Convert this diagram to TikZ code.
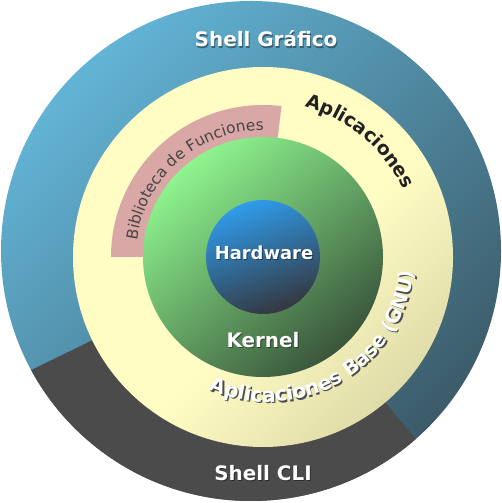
\documentclass[tikz,border=0pt]{standalone}
\usepackage{fontspec}
\setmainfont{DejaVu Sans}
\usetikzlibrary{positioning,decorations.text}

\definecolor{shellblue}{HTML}{62B4D6}
\definecolor{shellbluedark}{HTML}{3C5B69}
\definecolor{cligray}{HTML}{4B4B4B}
\definecolor{appyellow}{HTML}{FFFCC4}
\definecolor{appyellowdark}{HTML}{BDB98B}
\definecolor{libpink}{HTML}{D9A8A6}
\definecolor{kernelgreen}{HTML}{8EF58E}
\definecolor{kernelgreendark}{HTML}{3A553B}
\definecolor{hwblue}{HTML}{2F9CEB}
\definecolor{hwbluedark}{HTML}{34373F}
\definecolor{textdark}{HTML}{222222}
\definecolor{libtext}{HTML}{454545}

\pgfdeclareverticalshading{appshade}{100bp}{color(0bp)=(appyellowdark); color(22bp)=(appyellowdark!55!appyellow); color(45bp)=(appyellow); color(100bp)=(appyellow)}

\tikzset{
  layerlabel/.style={text=white, font=\fontsize{20}{22}\selectfont\bfseries, inner sep=0pt},
  layershadow/.style={text=black, opacity=.4, font=\fontsize{20}{22}\selectfont\bfseries, inner sep=0pt},
  corelabel/.style={layerlabel, font=\fontsize{18}{20}\selectfont\bfseries},
  coreshadow/.style={layershadow, font=\fontsize{18}{20}\selectfont\bfseries},
}

\begin{document}
\begin{tikzpicture}[x=1bp,y=1bp]
      \useasboundingbox (0,0) rectangle (502,503);
      \coordinate (Center)      at (263,246);
      \coordinate (OuterCenter) at (251,252);
      \coordinate (BaseCenter)  at (268,248);
      \coordinate (BaseShadow)  at (269.3,246.6);

      % shell layers
      \shade[top color=shellblue, bottom color=shellbluedark, shading angle=45] (OuterCenter) circle (250);
      \begin{scope}
            \clip (OuterCenter) circle (250); % keeps the CLI part inside
            \fill[cligray] (Center) -- ++(206:400) arc (206:310:400) -- cycle;
      \end{scope}

      % applications, library, kernel, hardware
      \shade[shading=appshade, shading angle=45] (Center) circle (190);
      \fill[libpink] ([shift={(83:152)}]Center) arc (83:180:152)
            -- ([shift={(180:119)}]Center) arc (180:83:119) -- cycle;
      \shade[top color=kernelgreen, bottom color=kernelgreendark, shading angle=40] (Center) circle (120);
      \shade[top color=hwblue, bottom color=hwbluedark, shading angle=20] (Center) circle (57);

      % straight labels
      \node[layershadow] (shellgfxshadow) at (267,462.8) {Shell Gráfico};
      \node[layerlabel]  (shellgfx)       at (266,464)     {Shell Gráfico};
      \node[layershadow] (shellclishadow) at (264,28.8)  {Shell CLI};
      \node[layerlabel]  (shellcli)       at (263,30)      {Shell CLI};
      \node[coreshadow]  (hardwareshadow) at (265,248.8) {Hardware};
      \node[corelabel]   (hardware)       at (264,250)     {Hardware};
      \node[layershadow] (kernelshadow)   at (264,161.8) {Kernel};
      \node[layerlabel]  (kernel)         at (263,163)     {Kernel};

      % curved labels
      \path[decorate, decoration={text along path, text align=center,
            text={|\fontsize{19}{21}\selectfont\bfseries\color{textdark}|Aplicaciones}}]
            ([shift={(100:156)}]Center) arc (100:0:156);
      \path[decorate, decoration={text along path, text align=center,
            text={|\fontsize{15.5}{17}\selectfont\color{libtext}|Biblioteca de Funciones}}]
            ([shift={(178:127)}]Center) arc (178:84:127);
      \path[decorate, decoration={text along path, text align=center,
            text={|\fontsize{20}{22}\selectfont\bfseries\color{black!70}|Aplicaciones Base (GNU)}}]
            ([shift={(240:147)}]BaseShadow) arc (240:360:147);
      \path[decorate, decoration={text along path, text align=center,
            text={|\fontsize{20}{22}\selectfont\bfseries\color{white}|Aplicaciones Base (GNU)}}]
            ([shift={(240:147)}]BaseCenter) arc (240:360:147);
\end{tikzpicture}
\end{document}
